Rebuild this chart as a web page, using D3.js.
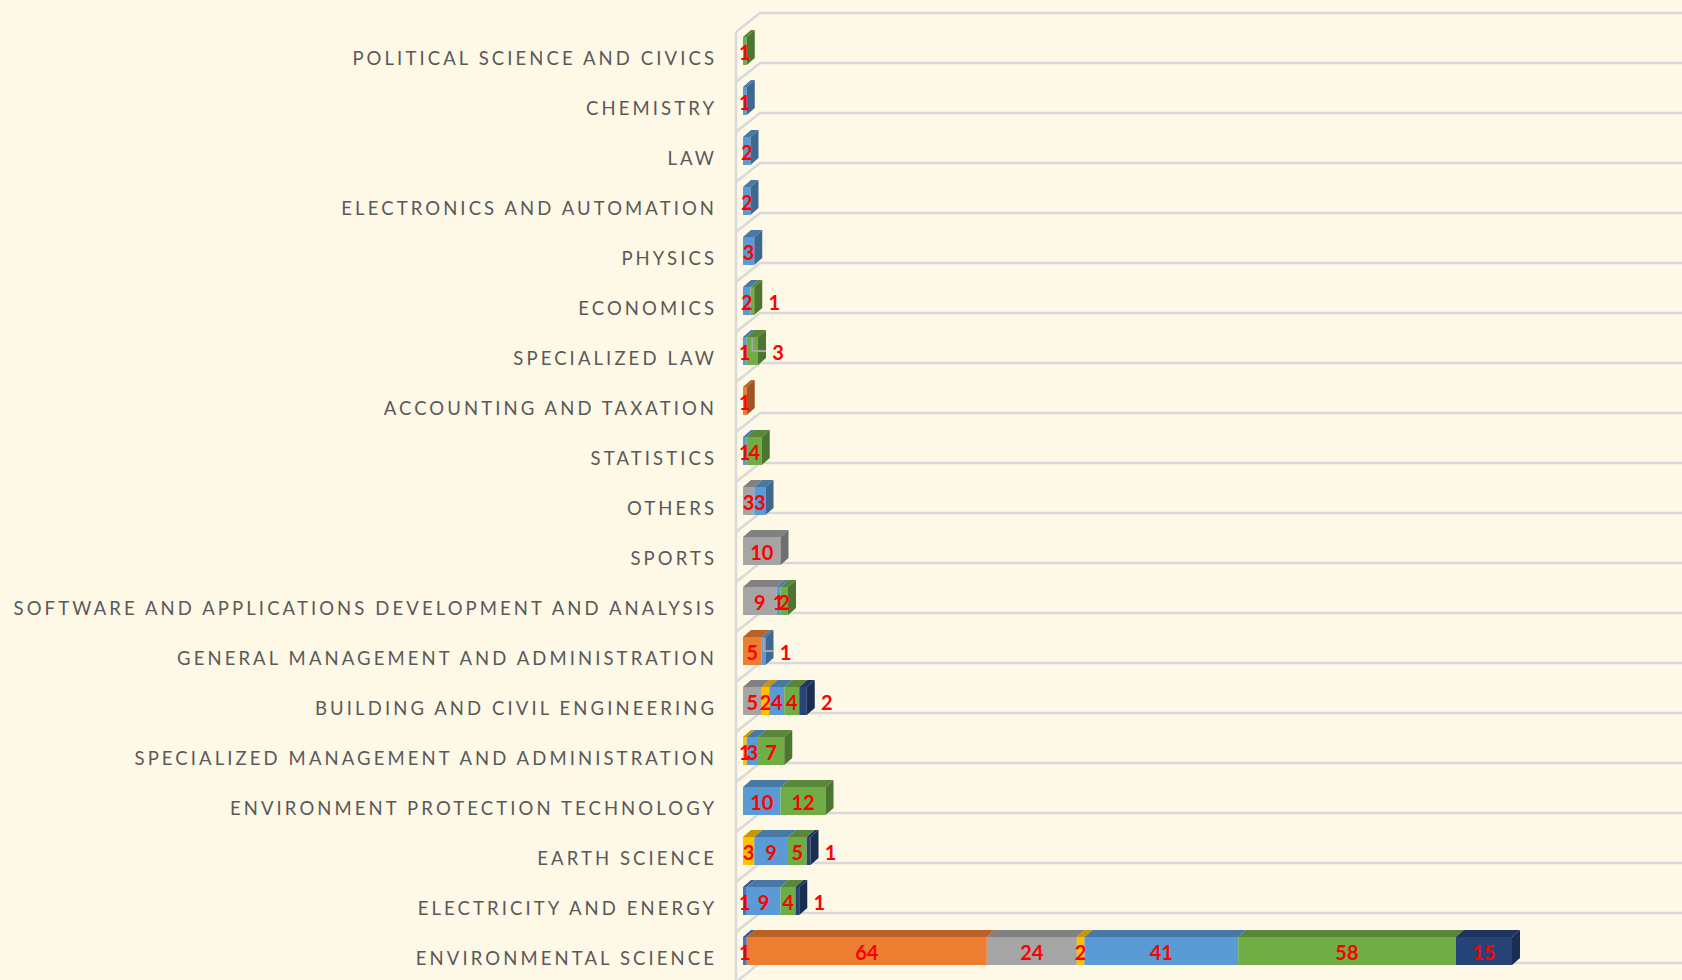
<!DOCTYPE html>
<html>
<head>
<meta charset="utf-8">
<script src="https://cdn.jsdelivr.net/npm/d3@7"></script>
<style>
    html, body { margin: 0; padding: 0; background: #fef8e7; }
    svg { display: block; }
</style>
</head>
<body>
<svg id="chart" width="1682" height="980"></svg>
<script>
// ============================================
// Data (top to bottom, as drawn)
// ============================================
const categories = [
    'Political Science and Civics',
    'Chemistry',
    'Law',
    'Electronics and Automation',
    'Physics',
    'Economics',
    'Specialized Law',
    'Accounting and Taxation',
    'Statistics',
    'Others',
    'Sports',
    'Software and Applications Development and Analysis',
    'General Management and Administration',
    'Building and Civil Engineering',
    'Specialized Management and Administration',
    'Environment Protection Technology',
    'Earth Science',
    'Electricity and Energy',
    'Environmental Science',
];

const seriesNames = ['Series 1', 'Series 2', 'Series 3', 'Series 4', 'Series 5', 'Series 6', 'Series 7'];

const series1 = [0, 0, 0, 0, 0, 0, 0, 0, 0, 0, 0, 0, 0, 0, 0, 0, 0, 1, 1];
const series2 = [0, 0, 0, 0, 0, 0, 0, 1, 0, 0, 0, 0, 5, 0, 0, 0, 0, 0, 64];
const series3 = [0, 0, 0, 0, 0, 0, 0, 0, 0, 3, 10, 9, 0, 5, 0, 0, 0, 0, 24];
const series4 = [0, 0, 0, 0, 0, 0, 0, 0, 0, 0, 0, 0, 0, 2, 1, 0, 3, 0, 2];
const series5 = [0, 1, 2, 2, 3, 2, 1, 0, 1, 3, 0, 1, 1, 4, 3, 10, 9, 9, 41];
const series6 = [1, 0, 0, 0, 0, 1, 3, 0, 4, 0, 0, 2, 0, 4, 7, 12, 5, 4, 58];
const series7 = [0, 0, 0, 0, 0, 0, 0, 0, 0, 0, 0, 0, 0, 2, 0, 0, 1, 1, 15];

const seriesValues = [series1, series2, series3, series4, series5, series6, series7];

// labels of the last segment that Excel pushed outside the bar
const outsideLast = ['Economics', 'Specialized Law', 'General Management and Administration',
    'Building and Civil Engineering', 'Earth Science', 'Electricity and Energy'];
const withLeader = ['Specialized Law', 'General Management and Administration'];

// ============================================
// Style tokens
// ============================================
const COLORS = {
    bg: '#fef8e7',
    grid: '#d9d9d9',
    leader: '#a6a6a6',
    label: '#595959',
    value: '#ff0000',
    series: ['#4472c4', '#ed7d31', '#a5a5a5', '#ffc000', '#5b9bd5', '#70ad47', '#264478'],
};

const W = 1682;
const H = 980;
const GRID_DX = 24;     // depth of the floor/back wall
const GRID_DY = 19;
const AXIS_X = 736;
const BAR_DX = 8;       // depth of each bar
const BAR_DY = 7;
const BAR_OFFSET = 5;
const BAR_H = 28;

const svg = d3.select('#chart');
svg.append('rect').attr('width', W).attr('height', H).attr('fill', COLORS.bg);

const y = d3.scaleBand().domain(categories).range([32, 32 + 50 * categories.length]);
const x = d3.scaleLinear().domain([0, 205]).range([743, 1512]);

// ============================================
// Grid (back wall lines + left axis)
// ============================================
const gridYs = categories.map((c) => y(c)).concat([y.range()[1]]);
svg.append('g')
    .selectAll('path')
    .data(gridYs)
    .enter()
    .append('path')
    .attr('d', (fy) => `M${AXIS_X},${fy} L${AXIS_X + GRID_DX},${fy - GRID_DY} L${W},${fy - GRID_DY}`)
    .attr('fill', 'none')
    .attr('stroke', COLORS.grid)
    .attr('stroke-width', 2.5);

svg.append('line')
    .attr('x1', AXIS_X).attr('x2', AXIS_X)
    .attr('y1', y(categories[0])).attr('y2', H)
    .attr('stroke', COLORS.grid)
    .attr('stroke-width', 2.5);

// ============================================
// Stacked 3D bars
// ============================================
const rows = categories.map((c, i) => {
    const row = { category: c };
    seriesNames.forEach((s, j) => { row[s] = seriesValues[j][i]; });
    return row;
});

const stacked = d3.stack().keys(seriesNames)(rows);

const segments = [];
stacked.forEach((layer, j) => {
    layer.forEach((d) => {
        const value = d[1] - d[0];
        if (value <= 0) return;
        segments.push({
            category: d.data.category,
            value,
            x0: x(d[0]),
            x1: x(d[1]),
            color: COLORS.series[j],
            j,
        });
    });
});

const lastOf = {};
segments.forEach((s) => {
    if (!lastOf[s.category] || s.j > lastOf[s.category].j) lastOf[s.category] = s;
});

const bars = svg.append('g');

bars.selectAll('polygon.top')
    .data(segments)
    .enter()
    .append('polygon')
    .attr('class', 'top')
    .attr('points', (d) => {
        const t = y(d.category) + BAR_OFFSET;
        return [[d.x0, t], [d.x0 + BAR_DX, t - BAR_DY], [d.x1 + BAR_DX, t - BAR_DY], [d.x1, t]].join(' ');
    })
    .attr('fill', (d) => d3.color(d.color).darker(0.7));

bars.selectAll('rect.front')
    .data(segments)
    .enter()
    .append('rect')
    .attr('class', 'front')
    .attr('x', (d) => d.x0)
    .attr('y', (d) => y(d.category) + BAR_OFFSET)
    .attr('width', (d) => d.x1 - d.x0)
    .attr('height', BAR_H)
    .attr('fill', (d) => d.color);

bars.selectAll('polygon.side')
    .data(Object.values(lastOf))
    .enter()
    .append('polygon')
    .attr('class', 'side')
    .attr('points', (d) => {
        const t = y(d.category) + BAR_OFFSET;
        return [[d.x1, t], [d.x1 + BAR_DX, t - BAR_DY], [d.x1 + BAR_DX, t + BAR_H - BAR_DY], [d.x1, t + BAR_H]].join(' ');
    })
    .attr('fill', (d) => d3.color(d.color).darker(1.1));

// ============================================
// Data labels
// ============================================
const labelX = (d) => {
    if (lastOf[d.category] === d && outsideLast.includes(d.category)) return d.x1 + 20;
    return (d.x0 + d.x1) / 2;
};

svg.append('g')
    .selectAll('path')
    .data(segments.filter((d) => lastOf[d.category] === d && withLeader.includes(d.category)))
    .enter()
    .append('path')
    .attr('d', (d) => {
        const cx = (d.x0 + d.x1) / 2;
        const t = y(d.category) + BAR_OFFSET + 1;
        return `M${cx},${t} L${cx},${t + 13} L${labelX(d) - 12},${t + 13}`;
    })
    .attr('fill', 'none')
    .attr('stroke', COLORS.leader)
    .attr('stroke-width', 2);

svg.append('g')
    .selectAll('text')
    .data(segments)
    .enter()
    .append('text')
    .attr('x', labelX)
    .attr('y', (d) => y(d.category) + BAR_OFFSET + BAR_H / 2 + 1)
    .attr('text-anchor', 'middle')
    .attr('dominant-baseline', 'central')
    .attr('fill', COLORS.value)
    .attr('font-family', 'Lato, sans-serif')
    .attr('font-weight', 700)
    .attr('font-size', 20)
    .text((d) => d.value);

// ============================================
// Category labels
// ============================================
const LETTER_SPACING = 3.1;
svg.append('g')
    .selectAll('text')
    .data(categories)
    .enter()
    .append('text')
    .attr('x', 714 + LETTER_SPACING)
    .attr('y', (c) => y(c) + 26)
    .attr('text-anchor', 'end')
    .attr('dominant-baseline', 'central')
    .attr('fill', COLORS.label)
    .attr('font-family', 'Lato, sans-serif')
    .attr('font-size', 18.5)
    .attr('letter-spacing', LETTER_SPACING)
    .text((c) => c.toUpperCase());
</script>
</body>
</html>
